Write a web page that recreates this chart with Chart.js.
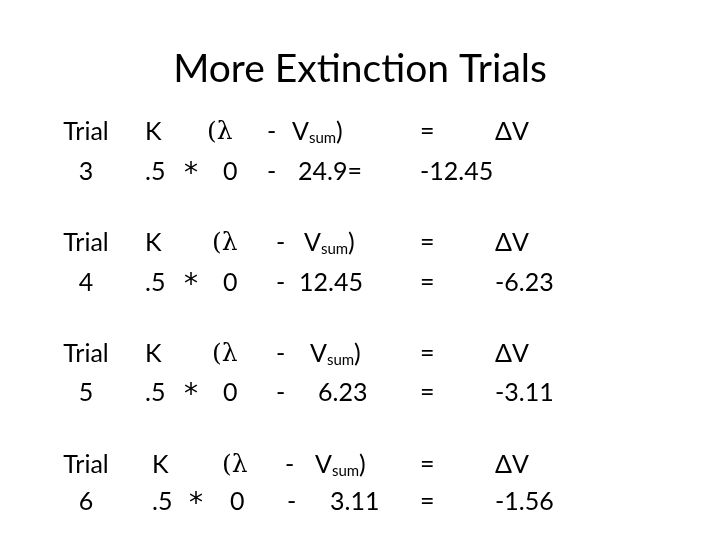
<!DOCTYPE html>
<html><head><meta charset="utf-8">
<script src="https://cdn.jsdelivr.net/npm/chart.js"></script>
<style>html,body{margin:0;background:#fff}#w{width:720px;height:540px}</style>
</head><body><div id="w"><canvas id="c"></canvas></div>
<script>
const titleText = "More Extinction Trials";
const trials = ["3", "4", "5", "6"];
const vsumValues = ["24.9=", "12.45", "6.23", "3.11"];
const deltaValues = ["-12.45", "-6.23", "-3.11", "-1.56"];
const secondEquals = ["", "=", "=", "="];

// layout (positions only)
const rowY = [[132, 172], [243, 283], [354, 393], [465, 502]];
const colX = [
  {k:145, lam:207, minus:267, v:292, p5:145, star:184, zero:223, m2:267, val:298, eq:420, dv:495, eq2:420, d2:420},
  {k:145, lam:212, minus:276, v:304, p5:145, star:184, zero:223, m2:276, val:299, eq:420, dv:495, eq2:420, d2:495},
  {k:145, lam:212, minus:276, v:310, p5:145, star:184, zero:223, m2:276, val:318, eq:420, dv:495, eq2:420, d2:495},
  {k:152, lam:222, minus:285, v:315, p5:152, star:189, zero:230, m2:287, val:330, eq:420, dv:495, eq2:420, d2:495}
];
const FONT = "Lato, 'Open Sans', sans-serif";

const textPlugin = {
  id: 'slideText',
  afterDraw(chart) {
    const ctx = chart.ctx;
    ctx.save();
    ctx.fillStyle = '#000';
    ctx.textBaseline = 'middle';
    const big = '25px ' + FONT, sub = '15px ' + FONT;
    const t = (s, x, y, f, a) => { ctx.font = f || big; ctx.textAlign = a || 'left'; ctx.fillText(s, x, y); };
    trials.forEach((tr, i) => {
      const [y1, y2] = rowY[i], c = colX[i];
      t('Trial', 86, y1, big, 'center');
      t(tr, 86, y2, big, 'center');
      t('K', c.k, y1);
      t('(λ', c.lam, y1, "25px 'DejaVu Serif', serif");
      t('-', c.minus, y1);
      t('V', c.v, y1);
      ctx.font = big; const vw = ctx.measureText('V').width;
      t('sum', c.v + vw, y1 + 6, sub);
      ctx.font = sub; const sw = ctx.measureText('sum').width;
      t(')', c.v + vw + sw, y1);
      t('=', c.eq, y1);
      t('ΔV', c.dv, y1);
      t('.5', c.p5, y2);
      t('*', c.star, y2 + 3, "28px 'DejaVu Sans', sans-serif");
      t('0', c.zero, y2);
      t('-', c.m2, y2);
      t(vsumValues[i], c.val, y2);
      if (secondEquals[i]) t(secondEquals[i], c.eq2, y2);
      t(deltaValues[i], c.d2, y2);
    });
    ctx.restore();
  }
};

new Chart(document.getElementById('c'), {
  type: 'scatter',
  data: { datasets: [{ data: [] }] },
  options: {
    responsive: true, maintainAspectRatio: false, animation: false,
    layout: { padding: { top: 46 } },
    scales: { x: { display: false }, y: { display: false } },
    plugins: {
      legend: { display: false }, tooltip: { enabled: false },
      title: { display: true, text: titleText, color: '#000', font: { family: FONT, size: 39, weight: 'normal' }, padding: 0 }
    }
  },
  plugins: [textPlugin]
});
</script></body></html>
